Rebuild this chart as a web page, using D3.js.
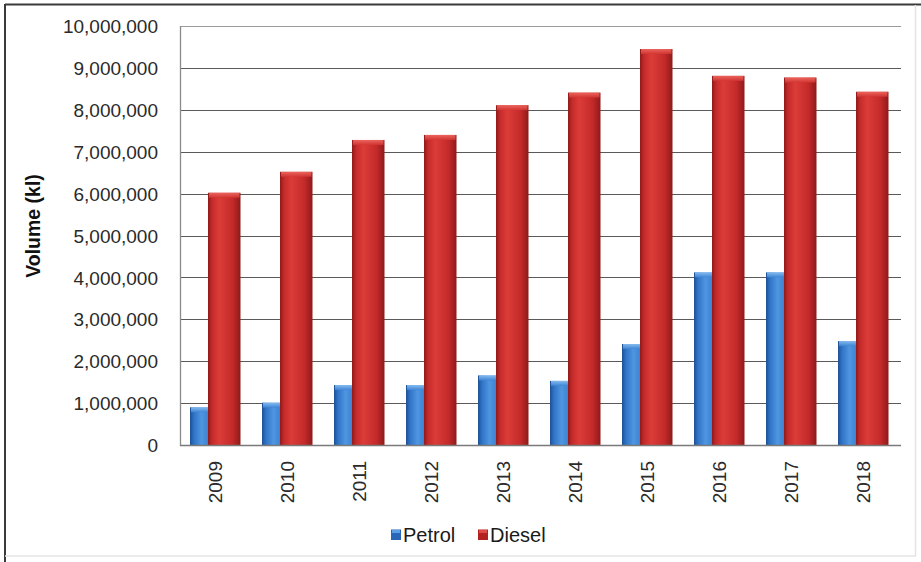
<!DOCTYPE html>
<html>
<head>
<meta charset="utf-8">
<script src="https://cdn.jsdelivr.net/npm/d3@7"></script>
<style>
  html, body { margin: 0; padding: 0; background: #ffffff; }
  svg { display: block; font-family: "Liberation Sans", Arial, sans-serif; }
</style>
</head>
<body>
<svg id="chart" width="921" height="562"></svg>
<script>
// Annual fuel volumes (kilolitres)
const years  = ["2009", "2010", "2011", "2012", "2013", "2014", "2015", "2016", "2017", "2018"];
const petrol = [900000, 1010000, 1430000, 1430000, 1660000, 1530000, 2410000, 4120000, 4120000, 2480000];
const diesel = [6020000, 6520000, 7280000, 7400000, 8110000, 8410000, 9450000, 8810000, 8770000, 8430000];
const yTicks = [0, 1000000, 2000000, 3000000, 4000000, 5000000, 6000000, 7000000, 8000000, 9000000, 10000000];
const seriesNames = ["Petrol", "Diesel"];

const svg = d3.select("#chart");
const W = 921, H = 562;
const plot = { left: 180, right: 901, top: 26, bottom: 445 };

// Outer frame
svg.append("rect").attr("x", 0).attr("y", 0).attr("width", W).attr("height", H).attr("fill", "#fff");
svg.append("line").attr("x1", 5).attr("x2", W).attr("y1", 4.5).attr("y2", 4.5)
  .attr("stroke", "#3a3a3a").attr("stroke-width", 2);
svg.append("line").attr("x1", 5).attr("x2", 5).attr("y1", 4).attr("y2", H)
  .attr("stroke", "#3a3a3a").attr("stroke-width", 2);
svg.append("line").attr("x1", 915.5).attr("x2", 915.5).attr("y1", 5).attr("y2", 556)
  .attr("stroke", "#e4e4e4").attr("stroke-width", 1.5);
svg.append("line").attr("x1", 5).attr("x2", 916).attr("y1", 556).attr("y2", 556)
  .attr("stroke", "#e4e4e4").attr("stroke-width", 1.5);

// Scales
const x = d3.scaleBand().domain(years).range([plot.left, plot.right - 1]).padding(0);
const y = d3.scaleLinear().domain([0, 10000000]).range([plot.bottom, plot.top]);

// Gradients for the bevelled bars
const defs = svg.append("defs");
function barGradient(id, edge, mid, light) {
  const g = defs.append("linearGradient").attr("id", id)
    .attr("x1", "0%").attr("x2", "100%").attr("y1", "0%").attr("y2", "0%");
  g.append("stop").attr("offset", "0%").attr("stop-color", edge);
  g.append("stop").attr("offset", "12%").attr("stop-color", mid);
  g.append("stop").attr("offset", "35%").attr("stop-color", light);
  g.append("stop").attr("offset", "75%").attr("stop-color", mid);
  g.append("stop").attr("offset", "100%").attr("stop-color", edge);
}
barGradient("gPetrol", "#1d4f95", "#2f73c6", "#4f95e0");
barGradient("gDiesel", "#8f1a1a", "#c42a2a", "#dc3c38");
function topGradient(id, top, bottom) {
  const g = defs.append("linearGradient").attr("id", id)
    .attr("x1", "0%").attr("x2", "0%").attr("y1", "0%").attr("y2", "100%");
  g.append("stop").attr("offset", "0%").attr("stop-color", top);
  g.append("stop").attr("offset", "100%").attr("stop-color", bottom);
}
topGradient("tPetrol", "#8cc0f2", "#3d84d4");
topGradient("tDiesel", "#ef6a62", "#d23532");

// Gridlines
svg.append("g").selectAll("line").data(yTicks.filter(d => d > 0)).join("line")
  .attr("x1", plot.left).attr("x2", plot.right)
  .attr("y1", d => Math.round(y(d)) + 0.5).attr("y2", d => Math.round(y(d)) + 0.5)
  .attr("stroke", d => d === 10000000 ? "#9a9a9a" : "#5a5a5a").attr("stroke-width", 1.2);

// Y axis labels
const yAxis = d3.axisLeft(y).tickValues(yTicks).tickSize(0).tickPadding(0)
  .tickFormat(d3.format(","));
const yg = svg.append("g").attr("transform", `translate(${plot.left - 22},0)`).call(yAxis);
yg.select(".domain").remove();
yg.selectAll("text").attr("font-size", 19).attr("fill", "#2a2a2a")
  .attr("font-family", "'Liberation Sans', Arial, sans-serif").attr("dy", "0.35em");

// Bars
const bw = x.bandwidth();
const petrolOff = bw * 10 / 72, dieselOff = bw * 28 / 72, barW = bw * 32.5 / 72;
const rows = years.map((yr, i) => ({ year: yr, petrol: petrol[i], diesel: diesel[i] }));

function drawSeries(key, fill, topFill, off) {
  const g = svg.append("g");
  g.selectAll("rect.body").data(rows).join("rect").attr("class", "body")
    .attr("x", d => x(d.year) + off).attr("width", barW)
    .attr("y", d => y(d[key])).attr("height", d => y(0) - y(d[key]))
    .attr("fill", `url(#${fill})`);
  g.selectAll("rect.cap").data(rows).join("rect").attr("class", "cap")
    .attr("x", d => x(d.year) + off + 1).attr("width", barW - 2)
    .attr("y", d => y(d[key])).attr("height", 5)
    .attr("fill", `url(#${topFill})`).attr("opacity", 0.9);
}
drawSeries("petrol", "gPetrol", "tPetrol", petrolOff);
drawSeries("diesel", "gDiesel", "tDiesel", dieselOff);

// Axis lines
svg.append("line").attr("x1", plot.left + 0.5).attr("x2", plot.left + 0.5)
  .attr("y1", plot.top).attr("y2", plot.bottom + 1).attr("stroke", "#8a8a8a").attr("stroke-width", 1.3);
svg.append("line").attr("x1", plot.left).attr("x2", plot.right)
  .attr("y1", plot.bottom + 0.5).attr("y2", plot.bottom + 0.5).attr("stroke", "#7a7a7a").attr("stroke-width", 1.3);

// X axis labels (rotated)
svg.append("g").selectAll("text").data(years).join("text")
  .attr("transform", d => `translate(${x(d) + bw / 2 - 1},461) rotate(-90)`)
  .attr("text-anchor", "end").attr("dy", "0.35em")
  .attr("font-size", 19).attr("fill", "#2a2a2a").text(d => d);

// Y axis title
svg.append("text").attr("transform", "translate(33,226) rotate(-90)")
  .attr("text-anchor", "middle").attr("dy", "0.35em")
  .attr("font-size", 19.5).attr("font-weight", "bold").attr("fill", "#111")
  .text("Volume (kl)");

// Legend
const legendColors = { Petrol: ["#2a66b6", "#5a9ee6"], Diesel: ["#b3201f", "#e04a44"] };
const legendX = [391, 478];
const lg = svg.append("g");
seriesNames.forEach((name, i) => {
  lg.append("rect").attr("x", legendX[i]).attr("y", 529.5).attr("width", 10).attr("height", 10.5)
    .attr("fill", legendColors[name][0]);
  lg.append("rect").attr("x", legendX[i] + 1).attr("y", 530).attr("width", 8).attr("height", 3)
    .attr("fill", legendColors[name][1]);
  lg.append("text").attr("x", legendX[i] + 12).attr("y", 541.5)
    .attr("font-size", 20).attr("fill", "#1a1a1a").text(name);
});
</script>
</body>
</html>
